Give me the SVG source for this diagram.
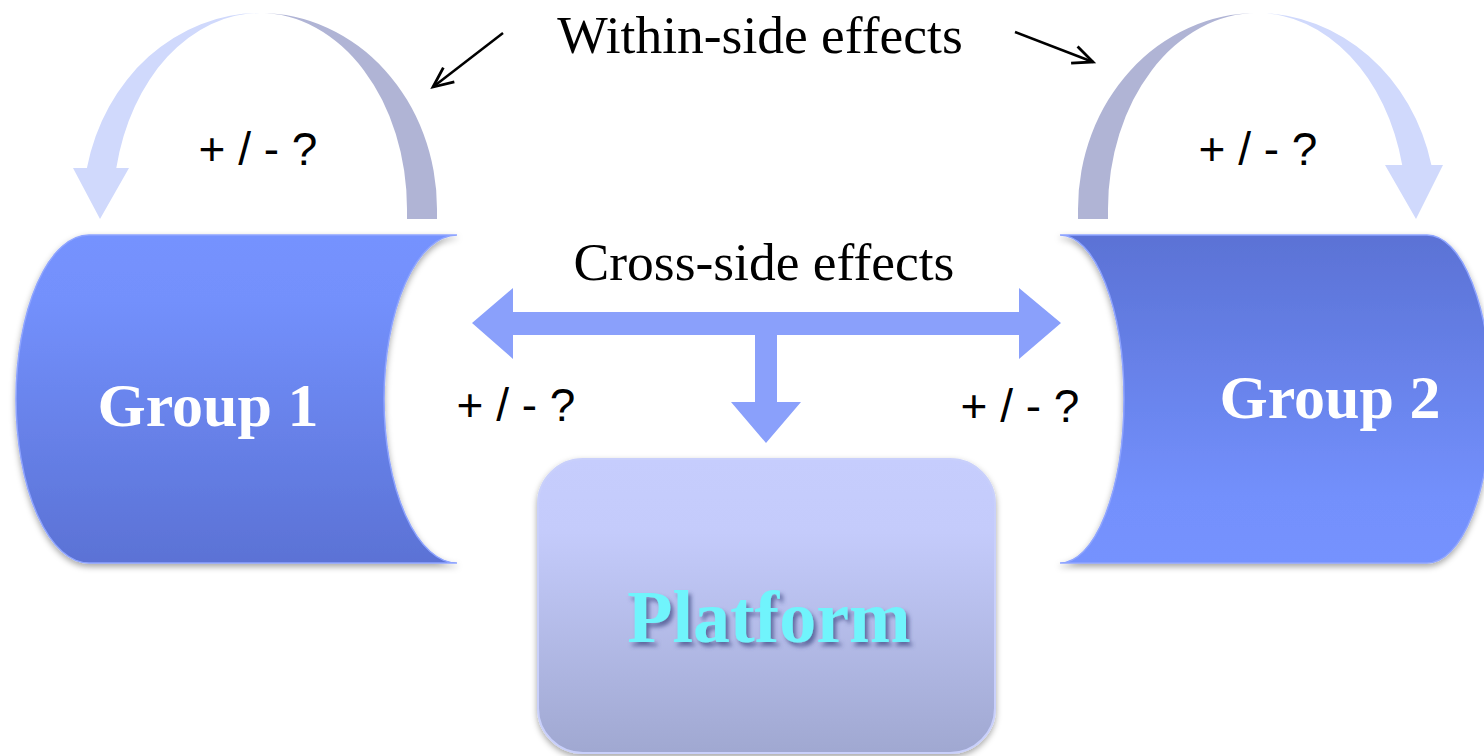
<svg xmlns="http://www.w3.org/2000/svg" width="1484" height="756" viewBox="0 0 1484 756">
  <defs>
    <style>
      .serif { font-family: "Liberation Serif", "Times New Roman", serif; }
      .sans { font-family: "Liberation Sans", Arial, sans-serif; }
      .caption { font-size: 53.5px; fill: #000; }
      .sign { font-size: 46px; fill: #000; }
      .group-label { font-size: 62px; font-weight: bold; fill: #fff; }
      .platform-label { font-size: 74px; font-weight: bold; fill: #6ff4fc; }
      .loop-light { fill: #d0d9fc; }
      .loop-dark { fill: #b0b4d5; }
      .cross { fill: #8aa0fb; }
      .pointer { stroke: #000; stroke-width: 2.5; fill: none; }
      .group-shape { stroke: #8ea4ff; stroke-width: 1.5; }
      .platform-shape { stroke: #c9d0fb; stroke-width: 2; }
    </style>
    <linearGradient id="gradGroup1" x1="0" y1="0" x2="0" y2="1">
      <stop offset="0" stop-color="#7592fe"/>
      <stop offset="0.2" stop-color="#7390fc"/>
      <stop offset="1" stop-color="#5b72d5"/>
    </linearGradient>
    <linearGradient id="gradGroup2" x1="0" y1="0" x2="0" y2="1">
      <stop offset="0" stop-color="#5b72d5"/>
      <stop offset="0.8" stop-color="#7390fc"/>
      <stop offset="1" stop-color="#7592fe"/>
    </linearGradient>
    <linearGradient id="gradPlatform" x1="0" y1="0" x2="0" y2="1">
      <stop offset="0" stop-color="#c6cdfd"/>
      <stop offset="0.25" stop-color="#c4cbfb"/>
      <stop offset="1" stop-color="#a0a8d1"/>
    </linearGradient>
    <filter id="softShadow" x="-10%" y="-10%" width="120%" height="125%">
      <feDropShadow dx="0" dy="3" stdDeviation="3" flood-color="#000" flood-opacity="0.35"/>
    </filter>
    <filter id="textShadow" x="-10%" y="-20%" width="125%" height="150%">
      <feDropShadow dx="3" dy="4" stdDeviation="2" flood-color="#3a4480" flood-opacity="0.7"/>
    </filter>
    <marker id="openHead" viewBox="-24 -12 28 24" markerWidth="28" markerHeight="24" refX="0" refY="0" orient="auto" markerUnits="userSpaceOnUse">
      <path d="M-20,-9 L0,0 L-20,9" fill="none" stroke="#000" stroke-width="2.8" stroke-linejoin="miter"/>
    </marker>
  </defs>

  <rect width="1484" height="756" fill="#fff"/>

  <!-- Group 1: stored-data shape, convex left, concave right -->
  <g id="group1">
    <path class="group-shape" fill="url(#gradGroup1)" filter="url(#softShadow)"
          d="M89,235 L457,235 A73,164 0 0 0 457,563 L89,563 A73,164 0 0 1 89,235 Z"/>
    <text class="serif group-label" x="208" y="426" text-anchor="middle">Group 1</text>
  </g>

  <!-- Group 2: same shape, runs past the right edge -->
  <g id="group2">
    <path class="group-shape" fill="url(#gradGroup2)" filter="url(#softShadow)"
          d="M1060,235 L1427,235 A64,164 0 0 1 1427,563 L1060,563 A64,164 0 0 0 1060,235 Z"/>
    <text class="serif group-label" x="1330" y="418" text-anchor="middle">Group 2</text>
  </g>

  <!-- Platform -->
  <g id="platform">
    <rect class="platform-shape" x="538" y="459" width="457" height="294" rx="45" ry="45"
          fill="url(#gradPlatform)" filter="url(#softShadow)"/>
    <text class="serif platform-label" x="769" y="642" text-anchor="middle" filter="url(#textShadow)">Platform</text>
  </g>

  <!-- Connectors -->
  <g id="connectors">
    <!-- within-side loop on Group 1 -->
    <path class="loop-dark" d="M260,13 A177,196 0 0 1 437,209 L437,219 L407,219 L407,209 A147,196 0 0 0 260,13 Z"/>
    <path class="loop-light" d="M260,13 A177,196 0 0 0 86.9,168 L73,168 L100,219 L129,168 L116.3,168 A147,196 0 0 1 260,13 Z"/>

    <!-- within-side loop on Group 2 -->
    <path class="loop-dark" d="M1257,13 A179,196 0 0 0 1078,209 L1078,219 L1108,219 L1108,209 A149,196 0 0 1 1257,13 Z"/>
    <path class="loop-light" d="M1257,13 A179,196 0 0 1 1431.4,165 L1443,165 L1416,219 L1385,165 L1402.2,165 A149,196 0 0 0 1257,13 Z"/>

    <!-- cross-side double arrow with drop to the platform -->
    <path class="cross" d="M472,323 L513,288 L513,312 L1019,312 L1019,288 L1061,323 L1019,359 L1019,335 L777,335 L777,402 L801,402 L766,443 L731,402 L755,402 L755,335 L513,335 L513,359 Z"/>

    <!-- pointers from the caption to the loops -->
    <line class="pointer" x1="503" y1="33" x2="433" y2="87" marker-end="url(#openHead)"/>
    <line class="pointer" x1="1015" y1="32" x2="1093" y2="62" marker-end="url(#openHead)"/>
  </g>

  <!-- Labels -->
  <g id="labels">
    <text class="serif caption" x="760" y="53" text-anchor="middle">Within-side effects</text>
    <text class="serif caption" x="764" y="280" text-anchor="middle">Cross-side effects</text>
    <text class="sans sign" x="258" y="165" text-anchor="middle">+ / - ?</text>
    <text class="sans sign" x="1258" y="165" text-anchor="middle">+ / - ?</text>
    <text class="sans sign" x="516" y="421" text-anchor="middle">+ / - ?</text>
    <text class="sans sign" x="1020" y="422" text-anchor="middle">+ / - ?</text>
  </g>
</svg>
